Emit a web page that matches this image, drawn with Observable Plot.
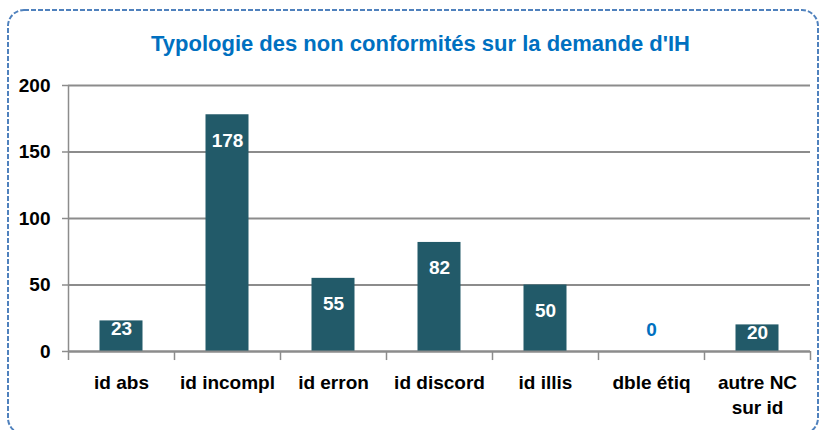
<!DOCTYPE html>
<html>
<head>
<meta charset="utf-8">
<script src="https://cdn.jsdelivr.net/npm/d3@7"></script>
<script src="https://cdn.jsdelivr.net/npm/@observablehq/plot@0.6"></script>
<style>
  html, body { margin: 0; padding: 0; background: #fff; }
  #wrap { position: relative; width: 821px; height: 430px; overflow: hidden; }
  #border { position: absolute; left: 0; top: 0; }
  #title { position: absolute; left: 0; width: 841px; top: 31px; text-align: center;
    font: bold 22px "Liberation Sans", sans-serif; color: #0070c0; }
  #chart { position: absolute; left: 0; top: 0; }
</style>
</head>
<body>
<div id="wrap">
  <svg id="border" width="821" height="430">
    <rect x="8" y="10" width="810" height="424" rx="16" ry="16" fill="none"
      stroke="#4f81bd" stroke-width="2" stroke-dasharray="5 2"></rect>
  </svg>
  <div id="title">Typologie des non conformités sur la demande d'IH</div>
  <div id="chart"></div>
</div>
<script>
const categories = ["id abs", "id incompl", "id erron", "id discord", "id illis", "dble étiq", "autre NC\nsur id"];
const values = [23, 178, 55, 82, 50, 0, 20];
const yTicks = [0, 50, 100, 150, 200];

const data = categories.map((c, i) => ({cat: c, v: values[i]}));
const labelY = v => v === 0 ? 16 : (v >= 30 ? v - 19.5 : v - 6);
const font = '"Liberation Sans", sans-serif';

const chart = Plot.plot({
  width: 821,
  height: 430,
  marginLeft: 68,
  marginRight: 11,
  marginTop: 85,
  marginBottom: 79,
  style: {fontFamily: font, background: "transparent"},
  x: {domain: categories, padding: 0, label: null},
  y: {domain: [0, 200], label: null},
  marks: [
    Plot.gridY(yTicks, {stroke: "#8c8c8c", strokeOpacity: 1, strokeWidth: 2}),
    Plot.axisY(yTicks, {tickSize: 6, tickPadding: 12, stroke: "#8c8c8c", strokeWidth: 1.5,
      fontSize: 19, fontWeight: "bold", fill: "#000", label: null}),
    Plot.ruleX(categories, {x: d => d, dx: -53, y1: -6.8, y2: (d, i) => i === 0 ? 200 : 0, stroke: "#8c8c8c", strokeWidth: 1.5}),
    Plot.ruleX([categories[categories.length - 1]], {x: d => d, dx: 53, y1: -6.8, y2: 0, stroke: "#8c8c8c", strokeWidth: 1.5}),
    Plot.barY(data, {x: "cat", y: "v", fill: "#225a69", insetLeft: 31.5, insetRight: 31.5}),
    Plot.ruleY([0], {stroke: "#8c8c8c", strokeWidth: 2}),
    Plot.axisX({tickSize: 0, tickPadding: 19, fontSize: 19, fontWeight: "bold", fill: "#000", label: null, lineHeight: 1.35}),
    Plot.text(data, {x: "cat", y: d => labelY(d.v), text: d => String(d.v),
      fill: d => d.v === 0 ? "#0070c0" : "#fff", fontSize: 19, fontWeight: "bold"})
  ]
});
document.getElementById("chart").appendChild(chart);
</script>
</body>
</html>
